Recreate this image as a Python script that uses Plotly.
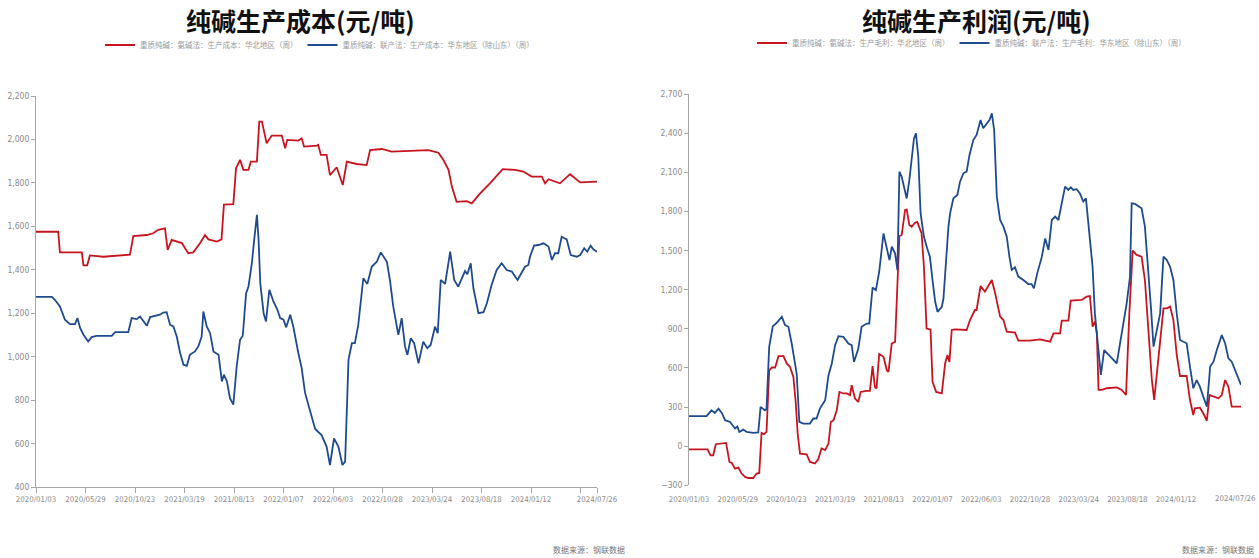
import plotly.graph_objects as go

# ---------------- data: cost (left) ----------------
cost_red_dates = ["2020-01-03","2020-03-09","2020-03-14","2020-05-18","2020-05-23","2020-06-03","2020-06-11","2020-07-21","2020-10-08","2020-10-18","2020-11-27","2020-12-16","2020-12-31","2021-01-20","2021-01-28","2021-02-09","2021-03-11","2021-03-30","2021-04-14","2021-05-04","2021-05-19","2021-05-29","2021-06-23","2021-07-07","2021-07-14","2021-08-11","2021-08-19","2021-08-31","2021-09-10","2021-09-25","2021-10-02","2021-10-20","2021-10-27","2021-11-04","2021-11-18","2021-12-03","2022-01-02","2022-01-12","2022-01-18","2022-02-20","2022-03-02","2022-03-09","2022-04-16","2022-04-20","2022-04-28","2022-05-15","2022-05-25","2022-06-14","2022-07-02","2022-07-14","2022-08-12","2022-09-11","2022-09-21","2022-10-26","2022-11-24","2023-03-13","2023-04-12","2023-04-27","2023-05-12","2023-05-22","2023-06-05","2023-07-05","2023-07-20","2023-08-14","2023-09-12","2023-10-20","2023-11-26","2023-12-20","2024-01-14","2024-02-13","2024-02-23","2024-03-04","2024-04-07","2024-05-07","2024-06-06","2024-07-26"]
cost_red_vals = [1575,1575,1480,1480,1420,1420,1466,1460,1470,1555,1560,1568,1584,1591,1492,1538,1523,1476,1480,1522,1560,1540,1530,1540,1700,1702,1867,1906,1860,1860,1898,1898,2082,2082,1982,2018,2018,1959,1998,1995,2005,1967,1972,1975,1929,1929,1836,1872,1790,1898,1887,1882,1951,1956,1944,1951,1939,1905,1860,1783,1713,1716,1706,1752,1798,1863,1860,1852,1829,1829,1798,1817,1798,1840,1802,1806]

cost_blue_dates = ["2020-01-03","2020-02-19","2020-02-28","2020-03-14","2020-03-29","2020-04-13","2020-04-28","2020-05-05","2020-05-13","2020-05-23","2020-06-06","2020-06-16","2020-07-01","2020-08-15","2020-08-25","2020-10-03","2020-10-13","2020-10-28","2020-11-07","2020-11-27","2020-12-07","2021-01-05","2021-01-15","2021-01-25","2021-02-04","2021-02-14","2021-02-24","2021-03-06","2021-03-16","2021-03-26","2021-04-04","2021-04-19","2021-04-29","2021-05-09","2021-05-14","2021-05-24","2021-06-03","2021-06-13","2021-06-28","2021-07-08","2021-07-14","2021-07-23","2021-08-01","2021-08-11","2021-08-21","2021-08-31","2021-09-08","2021-09-18","2021-09-25","2021-10-05","2021-10-12","2021-10-20","2021-10-25","2021-10-30","2021-11-09","2021-11-16","2021-11-26","2021-12-08","2021-12-20","2021-12-28","2022-01-07","2022-01-15","2022-01-27","2022-02-05","2022-02-20","2022-03-02","2022-03-12","2022-03-27","2022-04-11","2022-04-30","2022-05-15","2022-05-25","2022-06-06","2022-06-19","2022-07-01","2022-07-09","2022-07-19","2022-07-29","2022-08-07","2022-08-17","2022-09-01","2022-09-13","2022-09-26","2022-10-11","2022-10-23","2022-11-10","2022-11-19","2022-11-29","2022-12-14","2022-12-24","2023-01-03","2023-01-10","2023-01-20","2023-01-30","2023-02-12","2023-02-26","2023-03-10","2023-03-20","2023-04-02","2023-04-10","2023-04-19","2023-05-02","2023-05-17","2023-05-29","2023-06-10","2023-06-30","2023-07-07","2023-07-17","2023-07-25","2023-08-09","2023-08-24","2023-09-03","2023-09-17","2023-10-02","2023-10-17","2023-11-01","2023-11-16","2023-12-03","2023-12-13","2023-12-25","2024-01-04","2024-01-09","2024-01-21","2024-02-03","2024-02-18","2024-03-04","2024-03-14","2024-03-23","2024-04-02","2024-04-12","2024-04-27","2024-05-09","2024-05-27","2024-06-06","2024-06-18","2024-06-27","2024-07-07","2024-07-15","2024-07-26"]
cost_blue_vals = [1275,1275,1262,1231,1170,1150,1150,1178,1132,1101,1070,1090,1096,1096,1113,1113,1178,1173,1185,1142,1182,1193,1203,1205,1147,1139,1093,1017,963,958,1009,1024,1047,1093,1208,1139,1108,1024,1009,886,917,886,809,779,955,1078,1096,1292,1323,1430,1538,1653,1538,1338,1200,1162,1308,1254,1216,1178,1170,1135,1193,1139,1017,947,833,755,667,639,586,501,624,586,501,517,985,1062,1062,1146,1361,1335,1414,1437,1480,1437,1353,1230,1100,1177,1046,1008,1085,1062,969,1069,1039,1054,1138,1108,1353,1335,1483,1353,1322,1394,1380,1430,1315,1200,1205,1246,1330,1399,1430,1399,1392,1353,1384,1414,1422,1460,1511,1514,1522,1507,1445,1476,1476,1552,1540,1468,1460,1468,1499,1483,1511,1494,1483]

# ---------------- data: profit (right) ----------------
profit_red_dates = ["2020-01-03","2020-02-28","2020-03-08","2020-03-16","2020-03-24","2020-04-16","2020-04-24","2020-05-04","2020-05-11","2020-05-21","2020-05-31","2020-06-10","2020-06-20","2020-06-30","2020-07-15","2020-07-25","2020-08-02","2020-08-09","2020-08-16","2020-08-24","2020-09-01","2020-09-09","2020-09-19","2020-09-29","2020-10-14","2020-10-24","2020-11-03","2020-11-13","2020-11-20","2020-11-26","2020-12-03","2020-12-23","2021-01-02","2021-01-17","2021-01-27","2021-02-06","2021-02-17","2021-02-27","2021-03-06","2021-03-14","2021-03-24","2021-04-01","2021-04-13","2021-04-23","2021-05-03","2021-05-08","2021-05-18","2021-05-28","2021-06-04","2021-06-22","2021-07-02","2021-07-10","2021-07-17","2021-07-22","2021-07-30","2021-08-12","2021-08-22","2021-08-27","2021-09-06","2021-09-16","2021-09-23","2021-09-29","2021-10-06","2021-10-16","2021-10-21","2021-10-29","2021-11-05","2021-11-15","2021-11-22","2021-12-05","2021-12-12","2021-12-20","2022-01-01","2022-01-07","2022-01-18","2022-02-04","2022-02-14","2022-02-21","2022-02-27","2022-03-06","2022-03-16","2022-04-20","2022-04-30","2022-05-15","2022-05-20","2022-06-01","2022-06-14","2022-06-25","2022-07-05","2022-07-15","2022-07-30","2022-08-09","2022-08-19","2022-09-13","2022-09-23","2022-10-28","2022-11-27","2022-12-28","2023-01-07","2023-01-27","2023-02-01","2023-02-21","2023-02-28","2023-04-02","2023-04-17","2023-04-27","2023-05-05","2023-05-12","2023-05-18","2023-05-23","2023-06-02","2023-06-17","2023-07-17","2023-08-01","2023-08-14","2023-08-24","2023-09-03","2023-09-15","2023-09-30","2023-10-10","2023-10-20","2023-10-31","2023-11-07","2023-11-15","2023-11-25","2023-12-05","2023-12-15","2023-12-25","2024-01-04","2024-01-14","2024-01-24","2024-02-13","2024-02-23","2024-03-04","2024-03-09","2024-03-24","2024-04-03","2024-04-14","2024-04-22","2024-05-04","2024-05-19","2024-05-29","2024-06-08","2024-06-18","2024-06-28","2024-07-26"]
profit_red_vals = [-25,-25,-70,-70,15,25,25,-121,-129,-172,-164,-210,-236,-244,-244,-210,-205,102,92,110,582,603,603,690,690,634,608,531,339,97,-57,-62,-121,-133,-100,-18,-30,20,186,199,276,416,404,404,391,467,365,339,416,424,424,613,455,442,706,685,582,570,787,800,1298,1611,1619,1810,1815,1695,1682,1713,1720,1631,1375,902,895,493,416,404,634,700,646,891,896,891,967,1044,1044,1228,1185,1236,1274,1172,993,967,878,870,809,809,819,801,865,865,962,962,1116,1121,1146,1151,916,954,865,431,431,444,451,431,392,1018,1499,1466,1453,1274,865,507,354,558,814,1057,1057,1070,967,699,538,538,354,239,290,295,252,196,392,380,367,392,507,456,303,303]

profit_blue_dates = ["2020-01-03","2020-02-25","2020-03-11","2020-03-21","2020-04-01","2020-04-11","2020-04-21","2020-05-06","2020-05-21","2020-05-28","2020-06-03","2020-06-15","2020-06-25","2020-07-15","2020-07-30","2020-08-06","2020-08-19","2020-08-24","2020-09-01","2020-09-12","2020-09-24","2020-10-09","2020-10-19","2020-10-29","2020-11-08","2020-11-16","2020-11-23","2020-12-01","2020-12-13","2021-01-02","2021-01-12","2021-01-22","2021-02-01","2021-02-17","2021-02-27","2021-03-09","2021-03-19","2021-03-29","2021-04-13","2021-04-28","2021-05-08","2021-05-15","2021-05-28","2021-06-07","2021-06-22","2021-06-30","2021-07-10","2021-07-20","2021-07-30","2021-08-12","2021-08-20","2021-08-30","2021-09-06","2021-09-16","2021-09-23","2021-09-29","2021-10-06","2021-10-16","2021-10-21","2021-10-29","2021-11-05","2021-11-12","2021-11-18","2021-11-25","2021-12-02","2021-12-12","2021-12-22","2021-12-30","2022-01-07","2022-01-15","2022-01-22","2022-02-04","2022-02-09","2022-02-17","2022-02-24","2022-03-01","2022-03-11","2022-03-23","2022-03-31","2022-04-10","2022-04-20","2022-04-28","2022-05-10","2022-05-20","2022-06-01","2022-06-09","2022-06-21","2022-06-28","2022-07-05","2022-07-12","2022-07-20","2022-07-30","2022-08-09","2022-08-19","2022-08-27","2022-09-03","2022-09-13","2022-09-23","2022-10-08","2022-10-23","2022-11-02","2022-11-09","2022-11-19","2022-12-03","2022-12-13","2022-12-23","2023-01-02","2023-01-12","2023-01-22","2023-02-01","2023-02-11","2023-02-21","2023-02-28","2023-03-08","2023-03-18","2023-03-28","2023-04-07","2023-04-15","2023-04-25","2023-05-05","2023-05-12","2023-05-23","2023-05-30","2023-06-09","2023-06-22","2023-07-07","2023-07-17","2023-07-27","2023-08-06","2023-08-16","2023-08-26","2023-08-31","2023-09-10","2023-09-20","2023-09-30","2023-10-10","2023-10-20","2023-10-28","2023-11-05","2023-11-15","2023-11-25","2023-12-05","2023-12-15","2023-12-25","2024-01-04","2024-01-14","2024-01-24","2024-02-03","2024-02-13","2024-02-23","2024-03-04","2024-03-14","2024-03-24","2024-04-03","2024-04-14","2024-04-24","2024-05-04","2024-05-14","2024-05-29","2024-06-08","2024-06-18","2024-06-28","2024-07-08","2024-07-26"]
profit_blue_vals = [230,230,275,255,288,255,199,186,135,150,109,127,109,102,105,301,275,285,761,920,946,992,928,915,787,659,557,186,173,173,212,212,288,352,544,634,774,843,838,787,774,646,748,915,940,940,1216,1196,1337,1631,1534,1426,1529,1478,1350,2104,2066,1963,1899,2040,2219,2360,2398,2219,1784,1605,1516,1452,1273,1107,1030,1068,1132,1452,1682,1785,1900,1926,2028,2092,2105,2225,2347,2386,2501,2437,2475,2501,2552,2424,1913,1734,1683,1606,1453,1351,1371,1300,1274,1243,1243,1210,1325,1453,1593,1504,1734,1760,1734,1862,1990,1964,1985,1964,1970,1938,1875,1900,1657,1376,1018,737,546,737,699,661,635,789,916,1095,1300,1862,1857,1841,1824,1683,1376,1070,763,891,1018,1453,1427,1376,1274,1018,814,801,789,610,444,507,456,380,303,610,648,737,852,789,673,648,584,470]

# ---------------- ticks / labels ----------------
tick_dates = ["2020-01-03","2020-05-29","2020-10-23","2021-03-19","2021-08-13","2022-01-07","2022-06-03","2022-10-28","2023-03-24","2023-08-18","2024-01-12","2024-06-07","2024-07-26"]
tick_labels = ["2020/01/03","2020/05/29","2020/10/23","2021/03/19","2021/08/13","2022/01/07","2022/06/03","2022/10/28","2023/03/24","2023/08/18","2024/01/12","","2024/07/26"]
profit_tick_labels = tick_labels[:-1] + [""]
cost_yticks = [400,600,800,1000,1200,1400,1600,1800,2000,2200]
profit_yticks = [-300,0,300,600,900,1200,1500,1800,2100,2400,2700]

cost_names = ["重质纯碱：氨碱法：生产成本：华北地区（周）", "重质纯碱：联产法：生产成本：华东地区（除山东）（周）"]
profit_names = ["重质纯碱：氨碱法：生产毛利：华北地区（周）", "重质纯碱：联产法：生产毛利：华东地区（除山东）（周）"]
titles = ["纯碱生产成本(元/吨)", "纯碱生产利润(元/吨)"]
source_text = "数据来源：钢联数据"

RED = "#C8141E"
BLUE = "#1F4B8E"
W, H = 1259, 558
YTICKFONT = dict(family="DejaVu Sans Condensed, Liberation Sans Narrow, sans-serif", size=8.5, color="#8a8a8a")
XTICKFONT = dict(family="DejaVu Sans Condensed, Liberation Sans Narrow, sans-serif", size=7.8, color="#8a8a8a")
CJK = "Noto Sans CJK SC"

fig = go.Figure()
fig.add_trace(go.Scatter(x=cost_red_dates, y=cost_red_vals, name=cost_names[0], mode="lines",
                         line=dict(color=RED, width=1.8), xaxis="x", yaxis="y", legend="legend"))
fig.add_trace(go.Scatter(x=cost_blue_dates, y=cost_blue_vals, name=cost_names[1], mode="lines",
                         line=dict(color=BLUE, width=1.8), xaxis="x", yaxis="y", legend="legend"))
fig.add_trace(go.Scatter(x=profit_red_dates, y=profit_red_vals, name=profit_names[0], mode="lines",
                         line=dict(color=RED, width=1.8), xaxis="x2", yaxis="y2", legend="legend2"))
fig.add_trace(go.Scatter(x=profit_blue_dates, y=profit_blue_vals, name=profit_names[1], mode="lines",
                         line=dict(color=BLUE, width=1.8), xaxis="x2", yaxis="y2", legend="legend2"))

xr = [tick_dates[0], tick_dates[-1]]
LD = [36 / W, 597 / W]
LY = [(H - 487) / H, (H - 96) / H]
RD = [689 / W, 1241 / W]
RY = [(H - 485.3) / H, (H - 94) / H]
zero_pos = RY[0] + (RY[1] - RY[0]) * (300 / 3000)

common_x = dict(type="date", range=xr, tickmode="array", tickvals=tick_dates,
                tickfont=XTICKFONT, showgrid=False, zeroline=False, tickangle=0, automargin=False,
                ticklabeloverflow="allow")

fig.update_layout(
    width=W, height=H, margin=dict(l=0, r=0, t=0, b=0, autoexpand=False),
    paper_bgcolor="white", plot_bgcolor="white",
    xaxis=dict(**common_x, ticktext=tick_labels, domain=LD, anchor="y", showline=True,
               linecolor="#a6a6a6", linewidth=1, ticks="outside", ticklen=5, tickcolor="#a6a6a6"),
    yaxis=dict(domain=LY, range=[400, 2200], anchor="x", tickmode="array", tickvals=cost_yticks,
               tickformat=",d", tickfont=YTICKFONT, showgrid=False, zeroline=False, showline=True,
               linecolor="#a6a6a6", ticks="outside", ticklen=4, tickcolor="#a6a6a6", automargin=False),
    yaxis3=dict(domain=LY, range=[400, 2200], overlaying="y", side="right", anchor="x",
                showline=True, linecolor="#d6d6d6", showticklabels=False, ticks="", showgrid=False,
                zeroline=False, automargin=False),
    xaxis2=dict(**common_x, ticktext=profit_tick_labels, domain=RD, anchor="y2", showline=False,
                ticks="outside", ticklen=6, tickcolor="rgba(0,0,0,0)"),
    xaxis3=dict(type="date", range=xr, domain=RD, overlaying="x2", anchor="free", position=zero_pos,
                tickmode="array", tickvals=tick_dates, showticklabels=False, showline=True,
                linecolor="#a6a6a6", ticks="outside", ticklen=5, tickcolor="#a6a6a6", showgrid=False,
                zeroline=False, automargin=False),
    yaxis2=dict(domain=RY, range=[-300, 2700], anchor="x2", tickmode="array", tickvals=profit_yticks,
                tickformat=",d", tickfont=YTICKFONT, showgrid=False, zeroline=False, showline=True,
                linecolor="#a6a6a6", ticks="outside", ticklen=4, tickcolor="#a6a6a6", automargin=False),
    yaxis4=dict(domain=RY, range=[-300, 2700], overlaying="y2", side="right", anchor="x2",
                showline=True, linecolor="#d6d6d6", showticklabels=False, ticks="", showgrid=False,
                zeroline=False, automargin=False),
    legend=dict(orientation="h", x=100 / W, y=(H - 45) / H, xanchor="left", yanchor="middle",
                font=dict(family=CJK, size=7.5, color="#9a9a9a"), bgcolor="rgba(0,0,0,0)",
                itemwidth=30, tracegroupgap=0),
    legend2=dict(orientation="h", x=752 / W, y=(H - 43) / H, xanchor="left", yanchor="middle",
                 font=dict(family=CJK, size=7.5, color="#9a9a9a"), bgcolor="rgba(0,0,0,0)",
                 itemwidth=30, tracegroupgap=0),
    showlegend=True,
    annotations=[
        dict(text=titles[0], x=300 / W, y=(H - 20) / H, xref="paper", yref="paper", showarrow=False,
             xanchor="center", yanchor="middle",
             font=dict(family=CJK, size=25, color="#111111", weight="bold")),
        dict(text=titles[1], x=976 / W, y=(H - 20) / H, xref="paper", yref="paper", showarrow=False,
             xanchor="center", yanchor="middle",
             font=dict(family=CJK, size=25, color="#111111", weight="bold")),
        # end-date label of the right chart, kept inside the page edge
        dict(text=tick_labels[-1], x=1258 / W, y=(H - 499) / H, xref="paper", yref="paper",
             showarrow=False, xanchor="right", yanchor="middle", font=XTICKFONT),
        dict(text=source_text, x=627 / W, y=(H - 549) / H, xref="paper", yref="paper", showarrow=False,
             xanchor="right", yanchor="middle", font=dict(family=CJK, size=8, color="#777777")),
        dict(text=source_text, x=1256 / W, y=(H - 549) / H, xref="paper", yref="paper", showarrow=False,
             xanchor="right", yanchor="middle", font=dict(family=CJK, size=8, color="#777777")),
    ],
)

fig.write_html("out.html", config={"displayModeBar": False},
               post_script="document.body.style.margin='0px';document.body.style.overflow='hidden';")
